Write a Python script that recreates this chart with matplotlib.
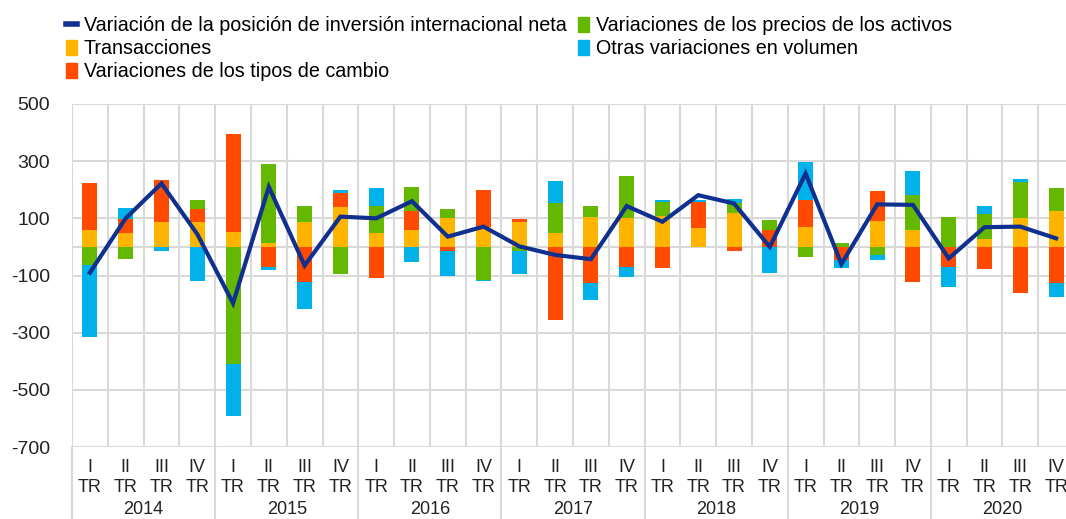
import numpy as np
import matplotlib
matplotlib.use('Agg')
import matplotlib.pyplot as plt
from matplotlib.patches import Patch
from matplotlib.lines import Line2D

plt.rcParams['font.family'] = ['Liberation Sans', 'DejaVu Sans']
plt.rcParams['axes.unicode_minus'] = False

years = ['2014', '2015', '2016', '2017', '2018', '2019', '2020']
quarters = ['I', 'II', 'III', 'IV']

# components (EUR bn)
transacciones = [59, 47, 88, 88, 51, 14, 88, 141, 48, 59, 100, 71, 88, 48,
                 106, 100, 108, 65, 117, 0, 71, 0, 91, 59, 0, 27, 100, 127]
tipos_cambio = [165, 52, 146, 43, 345, -71, -124, 47, -107, 67, -16, 128, 8, -255,
                -127, -71, -74, 93, -14, 58, 93, -45, 105, -124, -69, -76, -162, -127]
precios = [-63, -41, 0, 33, -409, 277, 56, -94, 95, 84, 31, -115, -16, 105,
           37, 148, 50, 0, 35, 35, -34, 15, -28, 122, 106, 87, 128, 78]
otras = [-252, 38, -14, -119, -181, -9, -92, 12, 62, -52, -84, -5, -78, 78,
         -58, -35, 6, 5, 14, -92, 134, -30, -18, 85, -72, 30, 8, -47]
pii_neta = [-90, 100, 222, 45, -197, 210, -65, 106, 100, 160, 36, 71, 2, -28,
            -43, 143, 88, 181, 152, 0, 257, -60, 149, 147, -40, 69, 71, 30]

labels = ['Transacciones', 'Variaciones de los tipos de cambio',
          'Variaciones de los precios de los activos', 'Otras variaciones en volumen']
colors = ['#FFB400', '#FF4B00', '#65B800', '#00B1EA']
line_color = '#10308F'
grid_color = '#D9D9D9'

series = np.array([transacciones, tipos_cambio, precios, otras], dtype=float)
x = np.arange(series.shape[1])

fig = plt.figure(figsize=(10.66, 5.19), dpi=100)
ax = fig.add_axes([72 / 1066, 72 / 519, 1002 / 1066, 343 / 519])

# gridlines
for v in [500, 300, 100, 0, -100, -300, -500, -700]:
    ax.axhline(v, color=grid_color, lw=1.5, zorder=0)
for xv in np.arange(-0.5, len(x), 1.0):
    ax.axvline(xv, color=grid_color, lw=1.5, zorder=0)

pos_base = np.zeros(len(x))
neg_base = np.zeros(len(x))
for vals, c in zip(series, colors):
    pos = np.where(vals > 0, vals, 0)
    neg = np.where(vals < 0, vals, 0)
    ax.bar(x, pos, 0.42, bottom=pos_base, color=c, zorder=2)
    ax.bar(x, neg, 0.42, bottom=neg_base, color=c, zorder=2)
    pos_base += pos
    neg_base += neg

ax.plot(x, pii_neta, color=line_color, lw=3, zorder=3, solid_joinstyle='miter')

ax.set_xlim(-0.5, len(x) - 0.5)
ax.set_ylim(-700, 500)
ax.set_yticks([500, 300, 100, -100, -300, -500, -700])
ax.tick_params(axis='y', length=0, pad=16, labelsize=14, labelcolor='#222222')
ax.set_xticks([])
for s in ax.spines.values():
    s.set_visible(False)

# category labels below the plot
px = 0.72  # points per pixel at dpi 100
for i in x:
    ax.annotate(quarters[i % 4], (i, 0), xycoords=('data', 'axes fraction'),
                xytext=(0, -20 * px), textcoords='offset points',
                ha='center', va='center', fontsize=13, color='#222222')
    ax.annotate('TR', (i, 0), xycoords=('data', 'axes fraction'),
                xytext=(0, -41 * px), textcoords='offset points',
                ha='center', va='center', fontsize=13, color='#222222')
for k, yr in enumerate(years):
    ax.annotate(yr, (4 * k + 1.5, 0), xycoords=('data', 'axes fraction'),
                xytext=(0, -62 * px), textcoords='offset points',
                ha='center', va='center', fontsize=13, color='#222222',
                annotation_clip=False)
for xv in np.arange(-0.5, len(x), 4.0):
    ax.plot([xv, xv], [0, -0.3], transform=ax.get_xaxis_transform(),
            color=grid_color, lw=1.5, clip_on=False, zorder=0)

handles = [Line2D([0], [0], color=line_color, lw=4)] + \
          [Patch(color=c) for c in colors]
names = ['Variación de la posición de inversión internacional neta'] + labels
fig.legend(handles, names, ncol=2,
           loc='upper left', bbox_to_anchor=(0.049, 0.995), frameon=False,
           fontsize=14.2, handlelength=0.55, handleheight=0.8, handletextpad=0.35,
           columnspacing=0.6, labelspacing=0.2, borderaxespad=0.3)

fig.savefig('out.png', dpi=100)
